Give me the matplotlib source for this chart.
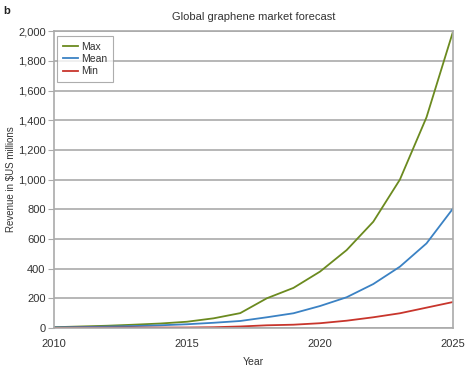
import numpy as np
import matplotlib
matplotlib.use('Agg')
import matplotlib.pyplot as plt
from matplotlib.ticker import FuncFormatter

plt.rcParams['font.family'] = ['Liberation Sans', 'DejaVu Sans']

years = list(range(2010, 2026))
max_vals = [5, 10, 15, 22, 30, 42, 65, 100, 200, 270, 380, 525, 716, 1000, 1420, 2000]
mean_vals = [4, 6, 9, 13, 18, 25, 35, 47, 72, 99, 148, 207, 296, 413, 570, 806]
min_vals = [1, 2, 2, 3, 3, 3, 5, 10, 18, 22, 32, 49, 72, 99, 137, 175]

text_col = '#333333'
grid_col = '#aaaaaa'

fig = plt.figure(figsize=(4.73, 3.71), dpi=100)
ax = fig.add_axes([0.114, 0.116, 0.844, 0.800])

ax.plot(years, max_vals, color='#6b8a1f', lw=1.3, label='Max')
ax.plot(years, mean_vals, color='#3b82c4', lw=1.3, label='Mean')
ax.plot(years, min_vals, color='#c8352c', lw=1.3, label='Min')

ax.set_xlim(2010, 2025)
ax.set_ylim(0, 2000)
ax.set_xticks([2010, 2015, 2020, 2025])
ax.set_yticks(np.arange(0, 2001, 200))
ax.yaxis.set_major_formatter(FuncFormatter(lambda v, p: f'{int(v):,}'))
ax.grid(axis='y', color=grid_col, lw=1.2)
ax.set_axisbelow(True)
for s in ax.spines.values():
    s.set_color(grid_col)
    s.set_linewidth(1.2)
ax.tick_params(axis='y', length=4, color=grid_col, labelsize=8, labelcolor=text_col, pad=2)
ax.tick_params(axis='x', length=0, labelsize=8, labelcolor=text_col, pad=8)

ax.set_title('Global graphene market forecast', fontsize=8, color=text_col, pad=8)
ax.set_xlabel('Year', fontsize=7.5, color=text_col, labelpad=6)
ax.set_ylabel('Revenue in $US millions', fontsize=7, color=text_col)
ax.yaxis.set_label_coords(-0.095, 0.5)

leg = ax.legend(loc='upper left', fontsize=7.5, handlelength=1.4, handletextpad=0.3,
                borderpad=0.6, labelspacing=0.2, fancybox=False,
                borderaxespad=0.3, bbox_to_anchor=(0.0, 0.995))
leg.get_frame().set_edgecolor('#999999')
leg.get_frame().set_linewidth(0.8)
for t in leg.get_texts():
    t.set_color(text_col)

fig.text(0.006, 0.962, 'b', fontsize=8, fontweight='bold', color='#222222')

fig.savefig('out.png', dpi=100)
